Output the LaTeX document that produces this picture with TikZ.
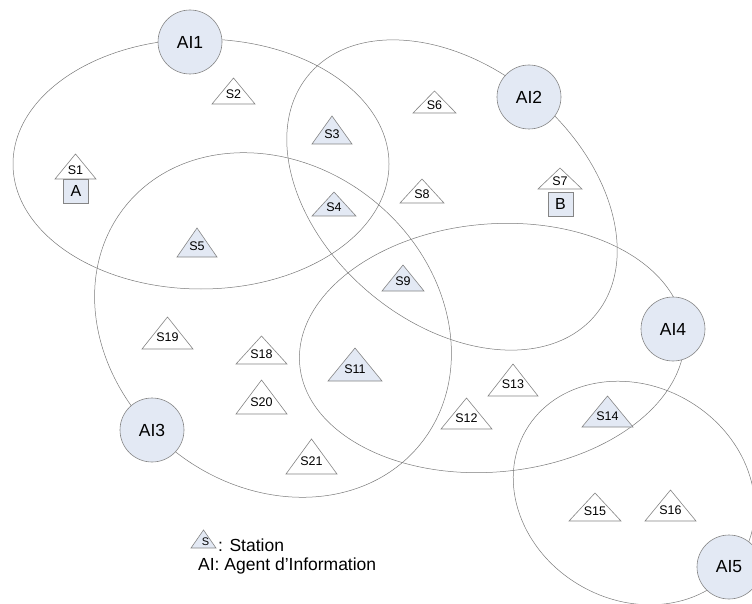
\documentclass[tikz,border=0pt]{standalone}
\usepackage{fontspec}
\setmainfont{Liberation Sans}
\usepackage{tikz}
\usetikzlibrary{calc}
\definecolor{agentfill}{HTML}{E3E9F4}
\definecolor{edgegray}{HTML}{858585}
\definecolor{zonegray}{HTML}{7A7A7A}
\tikzset{zone/.style={zonegray, line width=0.5pt}}
\tikzset{agent/.style={circle, draw=edgegray, fill=agentfill, line width=0.6pt, minimum size=64pt, inner sep=0pt, font=\fontsize{17.5}{18}\selectfont}}
\tikzset{station/.style={draw=edgegray, line width=0.6pt}}
\tikzset{slabel/.style={inner sep=0pt, font=\fontsize{12.5}{13}\selectfont}}
\tikzset{agentbox/.style={draw=edgegray, fill=agentfill, line width=0.6pt, minimum width=25pt, minimum height=24pt, inner sep=0pt, font=\fontsize{16}{16}\selectfont}}
% station: name, label, x, y (base), width, height, fill
\def\station#1#2#3#4#5#6#7{%
  \filldraw[station, fill=#7] ({#3-#5/2},#4) -- ({#3+#5/2},#4) -- (#3,{#4-#6}) -- cycle;
  \node[slabel] (#1) at (#3,{#4-0.36*#6}) {#2};}

\begin{document}
\begin{tikzpicture}[x=1pt, y=-1pt]
      \useasboundingbox (0,0) rectangle (752,604);
      % Zones
      \draw[zone] (201,164) ellipse [x radius=188, y radius=125];
      \draw[zone, rotate around={-40:(452,195)}] (452,195) ellipse [x radius=187, y radius=128];
      \draw[zone, rotate around={-39:(273,325)}] (273,325) ellipse [x radius=189.5, y radius=160];
      \draw[zone, rotate around={5:(492,348)}] (492,348) ellipse [x radius=193, y radius=124];
      \draw[zone, rotate around={-30:(634,493)}] (634,493) ellipse [x radius=125, y radius=107];

      % Agents d'information
      \node[agent] (AI1) at (190,42) {AI1};
      \node[agent] (AI2) at (529,97) {AI2};
      \node[agent] (AI3) at (152,430) {AI3};
      \node[agent] (AI4) at (673,329) {AI4};
      \node[agent] (AI5) at (729,567) {AI5};

      % Stations
      \station{S1}{S1}{75.5}{179}{41}{25}{white}
      \station{S2}{S2}{233.5}{104}{43}{26}{white}
      \station{S3}{S3}{332}{144}{40}{28}{agentfill}
      \station{S4}{S4}{334}{216}{44}{24}{agentfill}
      \station{S5}{S5}{197}{257}{40}{29}{agentfill}
      \station{S6}{S6}{434.5}{113}{43}{22}{white}
      \station{S7}{S7}{560}{189}{44}{21}{white}
      \station{S8}{S8}{422}{203}{44}{24}{white}
      \station{S9}{S9}{403}{291}{42}{26}{agentfill}
      \station{S11}{S11}{355}{381}{54}{33}{agentfill}
      \station{S12}{S12}{466.5}{429}{51}{31}{white}
      \station{S13}{S13}{513}{396}{50}{32}{white}
      \station{S14}{S14}{607.5}{427}{51}{31}{agentfill}
      \station{S15}{S15}{595}{521}{52}{28}{white}
      \station{S16}{S16}{670.5}{521}{51}{31}{white}
      \station{S18}{S18}{261.5}{364}{51}{28}{white}
      \station{S19}{S19}{167.5}{349}{51}{32}{white}
      \station{S20}{S20}{261.5}{414}{51}{34}{white}
      \station{S21}{S21}{311.5}{474}{51}{35}{white}

      % Agents mobiles
      \node[agentbox] (A) at (76,191) {A};
      \node[agentbox] (B) at (560.5,204) {B};

      % Legende
      \begin{scope}[slabel/.append style={font=\fontsize{11}{11}\selectfont, xshift=2pt}]
        \station{leg}{S}{203.5}{548}{25}{18}{agentfill}
      \end{scope}
      \node[anchor=west, inner sep=0pt, font=\fontsize{17.5}{18}\selectfont] (station) at (218,545) {: Station};
      \node[anchor=west, inner sep=0pt, font=\fontsize{17.5}{18}\selectfont] (agentinfo) at (198,566) {AI: Agent d’Information};
\end{tikzpicture}
\end{document}
